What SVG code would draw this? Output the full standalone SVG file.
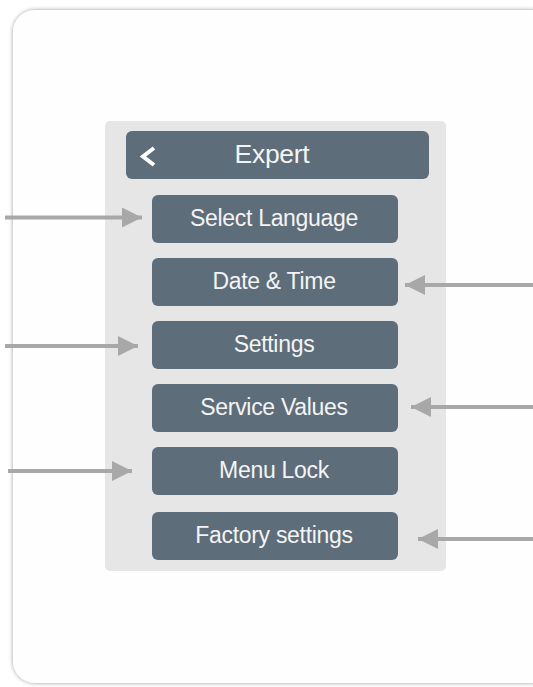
<svg xmlns="http://www.w3.org/2000/svg" width="533" height="687" viewBox="0 0 533 687">
<defs>
<filter id="sh" x="-5%" y="-5%" width="110%" height="110%">
<feGaussianBlur in="SourceAlpha" stdDeviation="2"/>
<feOffset dx="0" dy="0"/>
<feComponentTransfer><feFuncA type="linear" slope="0.4"/></feComponentTransfer>
<feMerge><feMergeNode/><feMergeNode in="SourceGraphic"/></feMerge>
</filter>
<marker id="ah" markerWidth="5" markerHeight="5" refX="5" refY="2.5" orient="auto" markerUnits="strokeWidth">
<path d="M0,0 L5,2.5 L0,5 Z" fill="#a8a8a8"/>
</marker>
</defs>
<style>
.btn{fill:#5e6d7a}
.lbl{fill:#f4f4f4;font-family:"Liberation Sans",Arial,sans-serif;font-size:23px;text-anchor:middle;letter-spacing:-0.3px}
.arr{stroke:#a8a8a8;stroke-width:4;fill:none;marker-end:url(#ah)}
</style>
<rect width="533" height="687" fill="#ffffff"/>
<rect x="13" y="10" width="540" height="673" rx="22" fill="#fefefe" filter="url(#sh)"/>
<g id="panel"><rect x="105" y="121" width="341" height="450" rx="5" fill="#e6e6e7"/></g>
<g id="header">
<rect x="126" y="131" width="303" height="48" rx="6" class="btn"/>
<path d="M154,148 L143,156.5 L154,165" stroke="#ffffff" stroke-width="4" fill="none" stroke-linejoin="miter" stroke-linecap="butt"/>
<text x="272" y="163" class="lbl" style="font-size:26.5px">Expert</text>
</g>
<g id="n1"><rect x="152" y="195" width="246" height="48" rx="6" class="btn"/><text x="274" y="226" class="lbl">Select Language</text></g>
<g id="n2"><rect x="152" y="258" width="246" height="48" rx="6" class="btn"/><text x="274" y="289" class="lbl">Date &amp; Time</text></g>
<g id="n3"><rect x="152" y="321" width="246" height="48" rx="6" class="btn"/><text x="274" y="352" class="lbl">Settings</text></g>
<g id="n4"><rect x="152" y="384" width="246" height="48" rx="6" class="btn"/><text x="274" y="415" class="lbl">Service Values</text></g>
<g id="n5"><rect x="152" y="447" width="246" height="48" rx="6" class="btn"/><text x="274" y="478" class="lbl">Menu Lock</text></g>
<g id="n6"><rect x="152" y="512" width="246" height="48" rx="6" class="btn"/><text x="274" y="543" class="lbl">Factory settings</text></g>
<g id="connectors">
<line x1="5" y1="217.5" x2="142" y2="217.5" class="arr"/>
<line x1="533" y1="285" x2="405" y2="285" class="arr"/>
<line x1="5" y1="346" x2="138" y2="346" class="arr"/>
<line x1="533" y1="407" x2="411" y2="407" class="arr"/>
<line x1="8" y1="471" x2="132" y2="471" class="arr"/>
<line x1="533" y1="539" x2="418" y2="539" class="arr"/>
</g>
</svg>
